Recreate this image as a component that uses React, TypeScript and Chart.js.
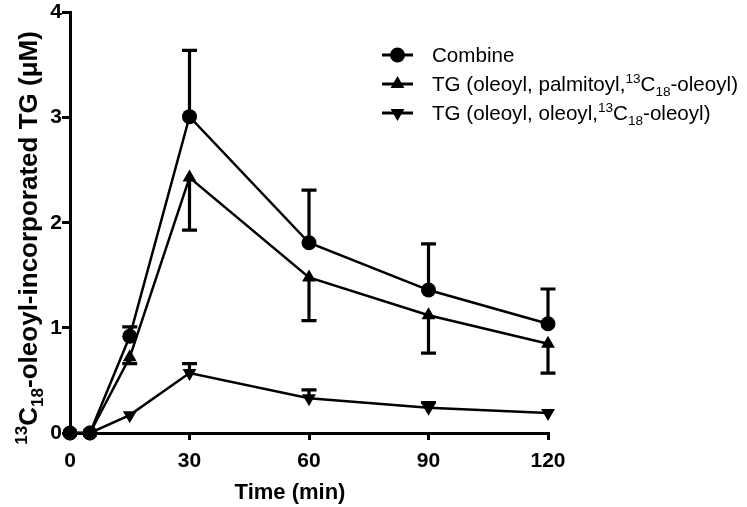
import React, { useEffect, useRef } from "react";
import { Chart, registerables } from "chart.js";

Chart.register(...registerables);

const times = [0, 5, 15, 30, 60, 90, 120];
const combineVals = [0, 0, 0.92, 3.01, 1.81, 1.36, 1.04];
const combineErr = [0, 0, 0.09, 0.63, 0.5, 0.44, 0.33];
const palmVals = [0, 0, 0.72, 2.43, 1.48, 1.12, 0.85];
const palmErr = [0, 0, 0.06, 0.5, 0.41, 0.36, 0.28];
const oleVals = [0, 0, 0.17, 0.57, 0.33, 0.24, 0.19];
const oleErr = [0, 0, 0, 0.09, 0.08, 0.05, 0];
const xTicks = [0, 30, 60, 90, 120];
const yTicks = [0, 1, 2, 3, 4];

const FONT = "'Liberation Sans', Arial, sans-serif";

type Part = { t: string; m?: "sup" | "sub" };

const legendItems: { parts: Part[]; marker: string }[] = [
  { parts: [{ t: "Combine" }], marker: "circle" },
  {
    parts: [
      { t: "TG (oleoyl, palmitoyl," },
      { t: "13", m: "sup" },
      { t: "C" },
      { t: "18", m: "sub" },
      { t: "-oleoyl)" },
    ],
    marker: "up",
  },
  {
    parts: [
      { t: "TG (oleoyl, oleoyl," },
      { t: "13", m: "sup" },
      { t: "C" },
      { t: "18", m: "sub" },
      { t: "-oleoyl)" },
    ],
    marker: "down",
  },
];

const yTitleParts: Part[] = [
  { t: "13", m: "sup" },
  { t: "C" },
  { t: "18", m: "sub" },
  { t: "-oleoyl-incorporated TG (\u03BCM)" },
];

function drawRich(
  ctx: CanvasRenderingContext2D,
  parts: Part[],
  x: number,
  y: number,
  size: number,
  weight: string,
  align: "left" | "center"
) {
  const small = size * 0.66;
  let total = 0;
  const widths: number[] = [];
  for (const p of parts) {
    ctx.font = `${weight} ${p.m ? small : size}px ${FONT}`;
    const w = ctx.measureText(p.t).width;
    widths.push(w);
    total += w;
  }
  let cx = align === "center" ? x - total / 2 : x;
  ctx.textAlign = "left";
  ctx.textBaseline = "alphabetic";
  parts.forEach((p, i) => {
    ctx.font = `${weight} ${p.m ? small : size}px ${FONT}`;
    const dy = p.m === "sup" ? -size * 0.4 : p.m === "sub" ? size * 0.24 : 0;
    ctx.fillText(p.t, cx, y + dy);
    cx += widths[i];
  });
}

function drawMarker(ctx: CanvasRenderingContext2D, kind: string, x: number, y: number) {
  ctx.beginPath();
  if (kind === "circle") {
    ctx.arc(x, y, 7.5, 0, Math.PI * 2);
  } else {
    const r = 8;
    const s = kind === "up" ? 1 : -1;
    for (let k = 0; k < 3; k++) {
      const a = (k * 2 * Math.PI) / 3;
      const px = x + Math.sin(a) * r;
      const py = y - s * Math.cos(a) * r;
      if (k === 0) ctx.moveTo(px, py);
      else ctx.lineTo(px, py);
    }
    ctx.closePath();
  }
  ctx.fill();
}

const seriesVals = [combineVals, palmVals, oleVals];
const seriesErr = [combineErr, palmErr, oleErr];
const seriesDir = [1, -1, 1];

const customPlugin = {
  id: "customDraw",
  afterDatasetsDraw(chart: any) {
    const ctx: CanvasRenderingContext2D = chart.ctx;
    const xs = chart.scales.x;
    const ys = chart.scales.y;
    ctx.save();
    ctx.strokeStyle = "#000";
    ctx.lineWidth = 3.2;
    seriesErr.forEach((errs, di) => {
      errs.forEach((e, i) => {
        if (!e) return;
        const x = xs.getPixelForValue(times[i]);
        const y0 = ys.getPixelForValue(seriesVals[di][i]);
        const y1 = ys.getPixelForValue(seriesVals[di][i] + seriesDir[di] * e);
        ctx.beginPath();
        ctx.moveTo(x, y0);
        ctx.lineTo(x, y1);
        ctx.moveTo(x - 7.5, y1);
        ctx.lineTo(x + 7.5, y1);
        ctx.stroke();
      });
    });
    ctx.restore();
  },
  afterDraw(chart: any) {
    const ctx: CanvasRenderingContext2D = chart.ctx;
    ctx.save();
    ctx.fillStyle = "#000";
    ctx.strokeStyle = "#000";
    // x title
    ctx.font = `bold 22px ${FONT}`;
    ctx.textAlign = "center";
    ctx.textBaseline = "alphabetic";
    ctx.fillText("Time (min)", 290, 499);
    // y title
    ctx.save();
    ctx.translate(28, 238);
    ctx.rotate(-Math.PI / 2);
    drawRich(ctx, yTitleParts, 0, 9, 26, "bold", "center");
    ctx.restore();
    // legend
    const rowsY = [55, 84, 113];
    legendItems.forEach((it, i) => {
      const y = rowsY[i];
      ctx.lineWidth = 3;
      ctx.beginPath();
      ctx.moveTo(382, y);
      ctx.lineTo(413, y);
      ctx.stroke();
      drawMarker(ctx, it.marker, 397.5, y);
      drawRich(ctx, it.parts, 432, y + 7, 20.6, "normal", "left");
    });
    ctx.restore();
  },
};

export default function App() {
  const ref = useRef<HTMLCanvasElement | null>(null);
  useEffect(() => {
    if (!ref.current) return;
    const mk = (vals: number[]) => times.map((t, i) => ({ x: t, y: vals[i] }));
    const chart = new Chart(ref.current, {
      type: "line",
      data: {
        datasets: [
          {
            label: "Combine",
            data: mk(combineVals),
            borderColor: "#000",
            backgroundColor: "#000",
            borderWidth: 2.5,
            pointStyle: "circle",
            pointRadius: 7.5,
            pointBorderWidth: 0,
            clip: false as any,
          },
          {
            label: "TG (oleoyl, palmitoyl,13C18-oleoyl)",
            data: mk(palmVals),
            borderColor: "#000",
            backgroundColor: "#000",
            borderWidth: 2.5,
            pointStyle: "triangle",
            pointRadius: 8,
            pointBorderWidth: 0,
            clip: false as any,
          },
          {
            label: "TG (oleoyl, oleoyl,13C18-oleoyl)",
            data: mk(oleVals),
            borderColor: "#000",
            backgroundColor: "#000",
            borderWidth: 2.5,
            pointStyle: "triangle",
            pointRotation: 180,
            pointRadius: 8,
            pointBorderWidth: 0,
            clip: false as any,
          },
        ],
      },
      options: {
        animation: false,
        responsive: true,
        maintainAspectRatio: false,
        layout: { padding: { left: 0, top: 12, right: 199, bottom: 0 } },
        plugins: { legend: { display: false }, tooltip: { enabled: false } },
        scales: {
          x: {
            type: "linear",
            min: 0,
            max: 120,
            afterBuildTicks: (s: any) => {
              s.ticks = xTicks.map((v) => ({ value: v }));
            },
            afterFit: (s: any) => {
              s.height = 74;
            },
            ticks: {
              color: "#000",
              font: { family: FONT, size: 21, weight: "bold" },
              padding: 9,
              maxRotation: 0,
            },
            grid: {
              display: true,
              drawOnChartArea: false,
              drawTicks: true,
              tickLength: 7,
              color: "#000",
              lineWidth: 3,
            },
            border: { display: true, color: "#000", width: 3 },
          },
          y: {
            type: "linear",
            min: 0,
            max: 4,
            afterBuildTicks: (s: any) => {
              s.ticks = yTicks.map((v) => ({ value: v }));
            },
            afterFit: (s: any) => {
              s.width = 70;
            },
            ticks: {
              color: "#000",
              font: { family: FONT, size: 21, weight: "bold" },
              padding: 0,
            },
            grid: {
              display: true,
              drawOnChartArea: false,
              drawTicks: true,
              tickLength: 8,
              color: "#000",
              lineWidth: 3,
            },
            border: { display: true, color: "#000", width: 3 },
          },
        },
      },
      plugins: [customPlugin],
    });
    return () => chart.destroy();
  }, []);
  return (
    <div style={{ position: "fixed", left: 0, top: 0, width: 747, height: 507, background: "#fff" }}>
      <canvas ref={ref} />
    </div>
  );
}
